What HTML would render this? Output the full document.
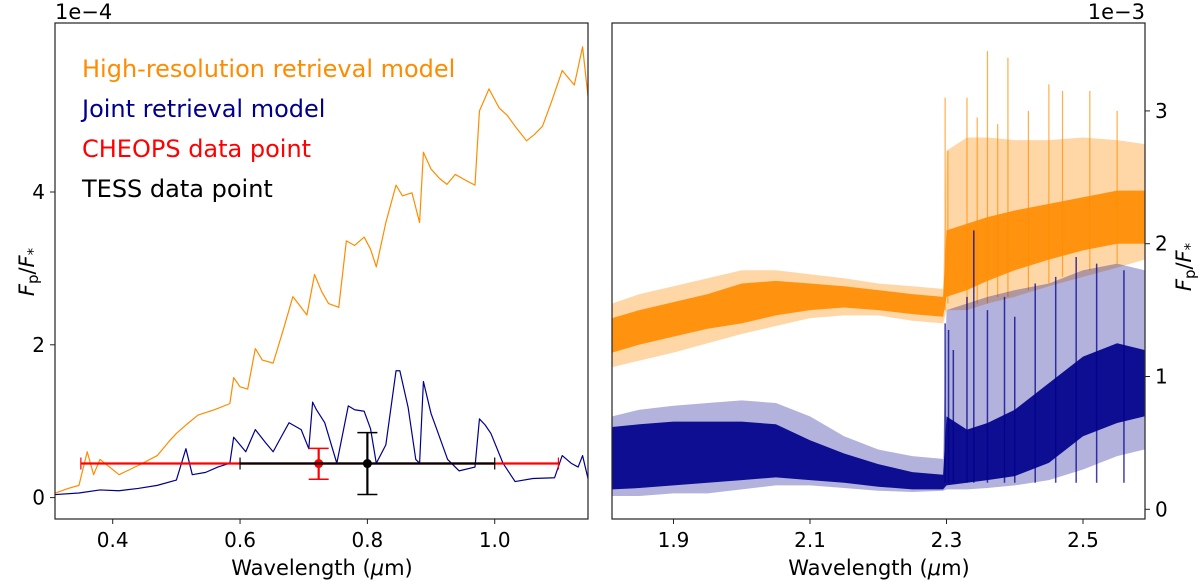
<!DOCTYPE html>
<html><head><meta charset="utf-8">
<style>
html,body{margin:0;padding:0;background:#fff;}
svg{display:block;font-family:"DejaVu Sans","Liberation Sans",sans-serif;}
</style></head>
<body>
<svg id="chart" width="1200" height="581" viewBox="0 0 1200 581" xmlns="http://www.w3.org/2000/svg">
  <defs>
    <clipPath id="clipL"><rect x="55" y="23" width="533" height="496"/></clipPath>
    <clipPath id="clipR"><rect x="612" y="23" width="533" height="496"/></clipPath>
  </defs>
  <g id="left-panel"></g>
  <g id="right-panel"></g>
</svg>
<script>
// ---------- LEFT PANEL DATA (y in 1e-4) ----------
const hrX = [0.31,0.33,0.347,0.36,0.37,0.38,0.41,0.44,0.47,0.49,0.50,0.515,0.534,0.56,0.584,0.59,0.60,0.612,0.624,0.635,0.652,0.668,0.683,0.695,0.705,0.717,0.728,0.739,0.755,0.767,0.78,0.795,0.805,0.814,0.829,0.845,0.855,0.87,0.882,0.888,0.9,0.913,0.925,0.938,0.955,0.969,0.976,0.991,1.007,1.02,1.032,1.05,1.062,1.075,1.09,1.106,1.125,1.138,1.149];
const hrY = [0.06,0.12,0.16,0.6,0.3,0.5,0.3,0.42,0.55,0.75,0.84,0.95,1.08,1.15,1.23,1.57,1.45,1.42,1.95,1.8,1.76,2.2,2.63,2.5,2.39,2.92,2.7,2.54,2.49,3.36,3.3,3.41,3.25,3.02,3.6,4.09,3.95,3.99,3.6,4.52,4.3,4.18,4.1,4.23,4.15,4.09,5.06,5.35,5.1,5.0,4.86,4.67,4.75,4.86,5.2,5.59,5.4,5.9,5.06];
const jrX = [0.31,0.347,0.38,0.41,0.44,0.47,0.50,0.515,0.525,0.546,0.565,0.584,0.59,0.609,0.624,0.64,0.652,0.665,0.677,0.696,0.708,0.714,0.72,0.733,0.752,0.77,0.78,0.795,0.805,0.814,0.829,0.845,0.851,0.864,0.876,0.882,0.888,0.9,0.907,0.926,0.944,0.969,0.976,0.985,0.994,1.013,1.032,1.06,1.094,1.106,1.12,1.131,1.138,1.149];
const jrY = [0.04,0.06,0.1,0.09,0.12,0.16,0.23,0.64,0.3,0.33,0.4,0.45,0.79,0.6,0.89,0.72,0.6,0.8,0.98,0.89,0.64,1.25,1.15,0.98,0.45,1.2,1.15,1.13,0.9,0.45,0.69,1.66,1.66,1.18,0.5,0.45,1.52,1.1,0.94,0.5,0.35,0.4,1.03,0.95,0.84,0.45,0.21,0.25,0.26,0.55,0.45,0.4,0.55,0.16];
const cheops = [0.7235, 0.446, 0.35, 1.10, 0.24, 0.645];
const tess   = [0.80, 0.446, 0.60, 1.00, 0.04, 0.85];
const leftXTicks = [0.4,0.6,0.8,1.0];
const leftXTickLabels = ["0.4","0.6","0.8","1.0"];
const leftYTicks = [0,2,4];
const leftYTickLabels = ["0","2","4"];

// ---------- RIGHT PANEL DATA (y in 1e-3) ----------
const bandX      = [1.81,1.85,1.90,1.95,2.00,2.05,2.10,2.15,2.20,2.25,2.295,2.30,2.33,2.36,2.40,2.45,2.50,2.55,2.59];
const orOuterLo  = [1.07,1.12,1.18,1.25,1.32,1.38,1.44,1.46,1.46,1.42,1.40,1.50,1.50,1.55,1.60,1.68,1.75,1.82,1.88];
const orOuterHi  = [1.55,1.62,1.68,1.74,1.80,1.80,1.77,1.74,1.70,1.68,1.66,2.70,2.80,2.80,2.78,2.78,2.80,2.78,2.75];
const orCoreLo   = [1.18,1.24,1.30,1.36,1.40,1.46,1.50,1.52,1.50,1.47,1.45,1.60,1.65,1.72,1.80,1.88,1.95,2.00,2.00];
const orCoreHi   = [1.44,1.50,1.56,1.62,1.70,1.72,1.70,1.68,1.65,1.62,1.60,2.10,2.15,2.20,2.25,2.30,2.35,2.40,2.40];
const blOuterLo  = [0.10,0.10,0.12,0.12,0.15,0.18,0.18,0.16,0.14,0.13,0.14,0.15,0.15,0.16,0.18,0.22,0.30,0.40,0.45];
const blOuterHi  = [0.70,0.75,0.78,0.80,0.82,0.80,0.70,0.55,0.45,0.40,0.38,1.50,1.55,1.60,1.65,1.70,1.80,1.85,1.80];
const blCoreLo   = [0.15,0.16,0.18,0.20,0.22,0.24,0.22,0.20,0.17,0.15,0.15,0.18,0.20,0.22,0.25,0.35,0.55,0.65,0.70];
const blCoreHi   = [0.62,0.64,0.66,0.66,0.66,0.64,0.52,0.42,0.34,0.28,0.26,0.70,0.60,0.65,0.75,0.95,1.15,1.25,1.20];
const orSpikeX   = [2.298,2.302,2.33,2.345,2.36,2.375,2.39,2.42,2.45,2.47,2.51,2.55];
const orSpikeTop = [3.10,2.70,3.10,2.95,3.45,2.90,3.40,3.00,3.20,3.15,3.15,3.00];
const orSpikeBot = [1.50,1.55,1.50,1.55,1.55,1.60,1.60,1.65,1.70,1.75,1.80,1.85];
const blSpikeX   = [2.298,2.303,2.31,2.33,2.34,2.36,2.385,2.40,2.43,2.46,2.49,2.52,2.56];
const blSpikeTop = [1.40,1.35,1.20,1.60,2.10,1.50,1.60,1.45,1.70,1.75,1.90,1.85,1.80];
const rightXTicks = [1.9,2.1,2.3,2.5];
const rightXTickLabels = ["1.9","2.1","2.3","2.5"];
const rightYTicks = [0,1,2,3];
const rightYTickLabels = ["0","1","2","3"];

const NS = "http://www.w3.org/2000/svg";
function mk(tag, attrs, parent){ const e=document.createElementNS(NS,tag); for(const k in attrs) e.setAttribute(k,attrs[k]); parent.appendChild(e); return e; }

const XL = x => 112.7 + (x-0.4)*636.7;
const YL = y => 497.6 - y*76.4;
const XR = x => 673.5 + (x-1.9)*682.5;
const YR = y => 509.3 - y*132.8;

// ---------- LEFT ----------
const L = document.getElementById('left-panel');
const Lc = mk('g',{'clip-path':'url(#clipL)'},L);
let p = mk('polyline',{points:hrX.map((x,i)=>XL(x)+','+YL(hrY[i])).join(' '),fill:'none',stroke:'#ff8c00','stroke-width':1.2,'stroke-linejoin':'round'},Lc);


p = mk('polyline',{points:jrX.map((x,i)=>XL(x)+','+YL(jrY[i])).join(' '),fill:'none',stroke:'#00008b','stroke-width':1.2,'stroke-linejoin':'round'},Lc);



function errbar(d,color,name){
  const g = mk('g',{},L);
  
  
  const cx=XL(d[0]), cy=YL(d[1]);
  mk('line',{x1:XL(d[2]),x2:XL(d[3]),y1:cy,y2:cy,stroke:color,'stroke-width':2.2},g);
  mk('line',{x1:XL(d[2]),x2:XL(d[2]),y1:cy-6,y2:cy+6,stroke:color,'stroke-width':1.2},g);
  mk('line',{x1:XL(d[3]),x2:XL(d[3]),y1:cy-6,y2:cy+6,stroke:color,'stroke-width':1.2},g);
  mk('line',{x1:cx,x2:cx,y1:YL(d[4]),y2:YL(d[5]),stroke:color,'stroke-width':2.2},g);
  mk('line',{x1:cx-10,x2:cx+10,y1:YL(d[4]),y2:YL(d[4]),stroke:color,'stroke-width':1.5},g);
  mk('line',{x1:cx-10,x2:cx+10,y1:YL(d[5]),y2:YL(d[5]),stroke:color,'stroke-width':1.5},g);
  mk('circle',{cx:cx,cy:cy,r:4.5,fill:color},g);
}
errbar(cheops,'#ff0000','cheops-data-point');
errbar(tess,'#000000','tess-data-point');

let fr = mk('rect',{x:55,y:23,width:533,height:496,fill:'none',stroke:'#222','stroke-width':1.2},L);



leftXTicks.forEach((t,i)=>{
  mk('line',{x1:XL(t),x2:XL(t),y1:519,y2:524,stroke:'#222','stroke-width':1},L);
  const tx = mk('text',{x:XL(t),y:547,'font-size':20,'text-anchor':'middle',fill:'#000'},L);
  tx.textContent = leftXTickLabels[i];
  
  
});
leftYTicks.forEach((t,i)=>{
  mk('line',{x1:50,x2:55,y1:YL(t),y2:YL(t),stroke:'#222','stroke-width':1},L);
  const tx = mk('text',{x:45,y:YL(t)+7,'font-size':20,'text-anchor':'end',fill:'#000'},L);
  tx.textContent = leftYTickLabels[i];
  
  
});

// ---------- RIGHT ----------
const R = document.getElementById('right-panel');
const Rc = mk('g',{'clip-path':'url(#clipR)'},R);
function band(lo,hi,color,op,name){
  const pts = bandX.map((x,i)=>XR(x)+','+YR(hi[i])).concat(bandX.slice().reverse().map((x,j)=>{const i=bandX.length-1-j;return XR(x)+','+YR(lo[i]);}));
  const e = mk('polygon',{points:pts.join(' '),fill:color,'fill-opacity':op},Rc);
  
  
}
band(orOuterLo,orOuterHi,'#ff8c00',0.35,'high-resolution-band-outer');
band(orCoreLo,orCoreHi,'#ff8c00',0.9,'high-resolution-band-core');
orSpikeX.forEach((x,i)=>{
  const l = mk('line',{x1:XR(x),x2:XR(x),y1:YR(orSpikeBot[i]),y2:YR(orSpikeTop[i]),stroke:'#ff8c00','stroke-width':1.2,'stroke-opacity':0.7},Rc);
  
  
});
band(blOuterLo,blOuterHi,'#00008b',0.3,'joint-band-outer');
band(blCoreLo,blCoreHi,'#00008b',0.92,'joint-band-core');
blSpikeX.forEach((x,i)=>{
  const l = mk('line',{x1:XR(x),x2:XR(x),y1:YR(0.2),y2:YR(blSpikeTop[i]),stroke:'#00008b','stroke-width':1.5,'stroke-opacity':0.75},Rc);
  
  
});
fr = mk('rect',{x:612,y:23,width:533,height:496,fill:'none',stroke:'#222','stroke-width':1.2},R);


rightXTicks.forEach((t,i)=>{
  mk('line',{x1:XR(t),x2:XR(t),y1:519,y2:524,stroke:'#222','stroke-width':1},R);
  const tx = mk('text',{x:XR(t),y:547,'font-size':20,'text-anchor':'middle',fill:'#000'},R);
  tx.textContent = rightXTickLabels[i];
  
  
});
rightYTicks.forEach((t,i)=>{
  mk('line',{x1:1145,x2:1150,y1:YR(t),y2:YR(t),stroke:'#222','stroke-width':1},R);
  const tx = mk('text',{x:1155,y:YR(t)+7,'font-size':20,'text-anchor':'start',fill:'#000'},R);
  tx.textContent = rightYTickLabels[i];
  
  
});
</script>
<svg style="position:absolute;left:0;top:0" width="1200" height="581" xmlns="http://www.w3.org/2000/svg" font-family="DejaVu Sans, Liberation Sans, sans-serif">
  <text x="55" y="19" font-size="21">1e−4</text>
  <text x="1145" y="19" font-size="21" text-anchor="end">1e−3</text>
  <g font-size="24">
    <text x="82" y="77" fill="#ff8c00">High-resolution retrieval model</text>
    <text x="82" y="117" fill="#00008b">Joint retrieval model</text>
    <text x="82" y="157" fill="#ff0000">CHEOPS data point</text>
    <text x="82" y="197" fill="#000">TESS data point</text>
  </g>
  <text x="322" y="575" font-size="21" text-anchor="middle">Wavelength (<tspan font-style="italic">μ</tspan>m)</text>
  <text x="879" y="575" font-size="21" text-anchor="middle">Wavelength (<tspan font-style="italic">μ</tspan>m)</text>
  <text transform="translate(34,272) rotate(-90)" font-size="21" text-anchor="middle"><tspan font-style="italic">F</tspan><tspan font-size="15" dy="4">p</tspan><tspan dy="-4">/</tspan><tspan font-style="italic">F</tspan><tspan font-size="15" dy="4">*</tspan></text>
  <text transform="translate(1191,267) rotate(-90)" font-size="21" text-anchor="middle"><tspan font-style="italic">F</tspan><tspan font-size="15" dy="4">p</tspan><tspan dy="-4">/</tspan><tspan font-style="italic">F</tspan><tspan font-size="15" dy="4">*</tspan></text>
</svg>
</body></html>
